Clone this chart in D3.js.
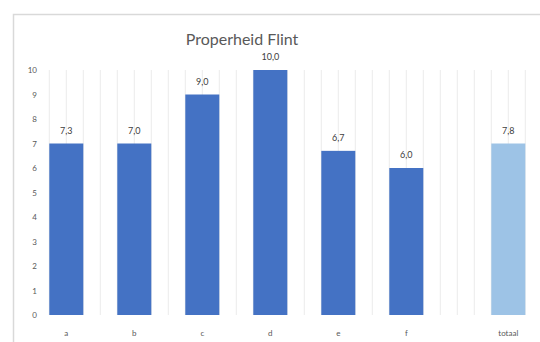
<!DOCTYPE html>
<html><head><meta charset="utf-8">
<script src="https://cdn.jsdelivr.net/npm/d3@7"></script>
<style>html,body{margin:0;padding:0;background:#fff;}svg{display:block;}</style>
</head><body>
<svg id="chart" width="540" height="342"></svg>
<script>
const title = "Properheid Flint";
const categories = ["a", "b", "c", "d", "e", "f", "totaal"];
const values = [7.0, 7.0, 9.0, 10.0, 6.7, 6.0, 7.0];
const valueLabels = ["7,3", "7,0", "9,0", "10,0", "6,7", "6,0", "7,8"];
const yTicks = [0, 1, 2, 3, 4, 5, 6, 7, 8, 9, 10];

const svg = d3.select("#chart");
const font = "Lato, 'Liberation Sans', sans-serif";

// chart frame (cropped at right/bottom)
svg.append("rect").attr("x", 13.5).attr("y", 14.5).attr("width", 540).attr("height", 340)
  .attr("fill", "#fff").attr("stroke", "#d9d9d9").attr("stroke-width", 1.5);

const x0 = 49.3, step = 68;
const x = d3.scaleBand().domain(categories)
  .range([x0, x0 + step * (categories.length - 0.5)])
  .paddingInner(0.5).paddingOuter(0);
const summaryShift = x.step() / 2;
const xPos = d => x(d) + (d === "totaal" ? summaryShift : 0);

const y = d3.scaleLinear().domain([0, 10]).range([315, 70]);

// vertical gridlines
const gx = d3.scaleLinear().domain([0, 28]).range([x0, x0 + x.step() * 7]);
svg.append("g").selectAll("line").data(d3.range(0, 29)).join("line")
  .attr("x1", d => gx(d)).attr("x2", d => gx(d))
  .attr("y1", y(10)).attr("y2", y(0))
  .attr("stroke", "#ececec").attr("stroke-width", 1);

// y axis labels
const yAxis = d3.axisLeft(y).tickValues(yTicks).tickSize(0).tickPadding(0).tickFormat(d3.format("d"));
const ya = svg.append("g").attr("transform", "translate(37,0)").call(yAxis);
ya.select(".domain").remove();
ya.selectAll("text").attr("fill", "#595959").style("font-family", font).style("font-size", "8px");

// bars
svg.append("g").selectAll("rect").data(categories).join("rect")
  .attr("x", d => xPos(d)).attr("width", x.bandwidth())
  .attr("y", (d, i) => y(values[i])).attr("height", (d, i) => y(0) - y(values[i]))
  .attr("fill", d => d === "totaal" ? "#9dc3e6" : "#4472c4");

// value labels
svg.append("g").selectAll("text").data(categories).join("text")
  .attr("x", d => xPos(d) + x.bandwidth() / 2)
  .attr("y", (d, i) => y(values[i]) - 10)
  .attr("text-anchor", "middle")
  .attr("fill", "#404040").style("font-family", font).style("font-size", "9px")
  .text((d, i) => valueLabels[i]);

// x axis labels
svg.append("g").selectAll("text").data(categories).join("text")
  .attr("x", d => xPos(d) + x.bandwidth() / 2)
  .attr("y", 336)
  .attr("text-anchor", "middle")
  .attr("fill", "#595959").style("font-family", font).style("font-size", "8px")
  .text(d => d);

// title
svg.append("text").attr("x", 242).attr("y", 45).attr("text-anchor", "middle")
  .attr("fill", "#595959").style("font-family", font).style("font-size", "16px")
  .text(title);
</script>
</body></html>
